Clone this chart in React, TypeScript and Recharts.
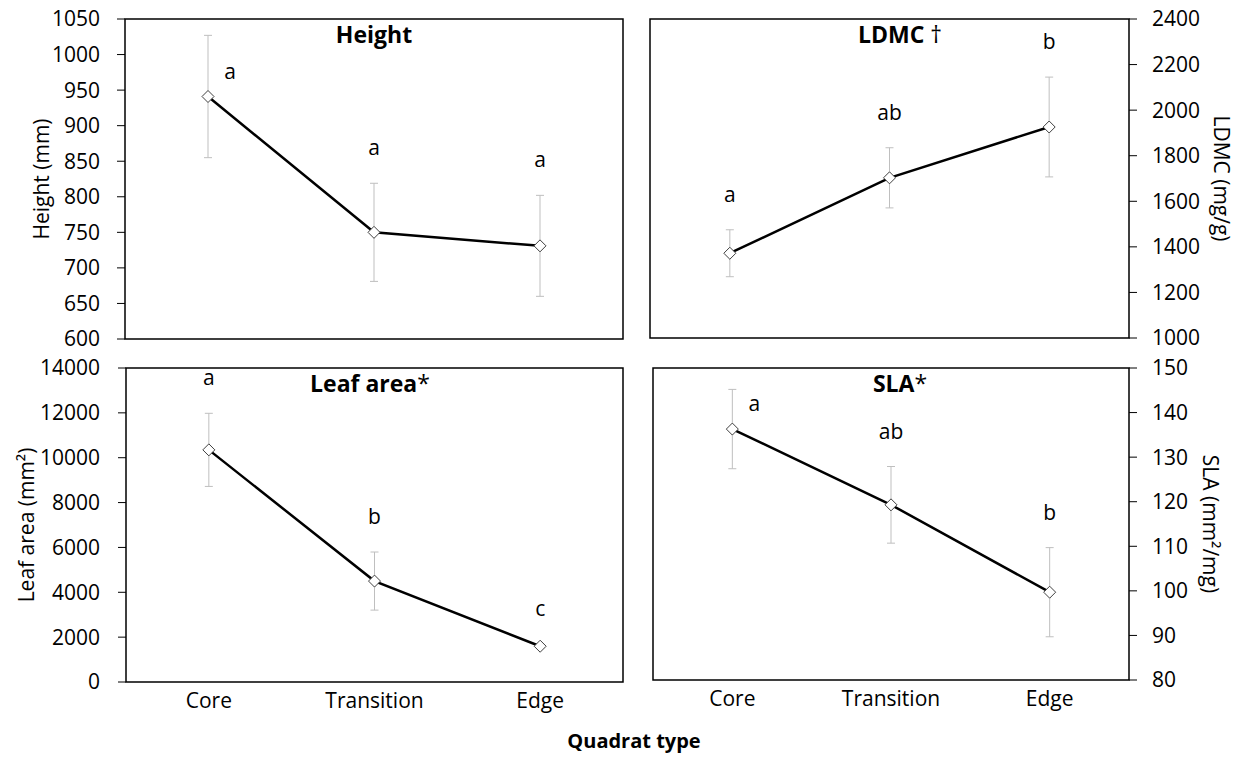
import { LineChart, Line, XAxis, YAxis, ErrorBar, ReferenceArea, LabelList, Label } from 'recharts'

const quadrats = ['Core', 'Transition', 'Edge']

const heightMean = [941, 750, 731]
const heightErr = [86, 69, 71]
const heightLetters = ['a', 'a', 'a']
const heightTicks = [600, 650, 700, 750, 800, 850, 900, 950, 1000, 1050]

const ldmcMean = [1372, 1703, 1926]
const ldmcErr = [103, 132, 219]
const ldmcLetters = ['a', 'ab', 'b']
const ldmcTicks = [1000, 1200, 1400, 1600, 1800, 2000, 2200, 2400]

const leafMean = [10350, 4500, 1595]
const leafErr = [1630, 1295, 80]
const leafLetters = ['a', 'b', 'c']
const leafTicks = [0, 2000, 4000, 6000, 8000, 10000, 12000, 14000]

const slaMean = [136.3, 119.3, 99.7]
const slaErr = [8.9, 8.6, 10]
const slaLetters = ['a', 'ab', 'b']
const slaTicks = [80, 90, 100, 110, 120, 130, 140, 150]

const W = 1243
const H = 761
const FONT = "'Open Sans', sans-serif"
const FS = 21

type Panel = {
  title: string
  titleNote: string
  titleX: number
  yLabel: string
  yLabelX: number
  mean: number[]
  err: number[]
  letters: string[]
  ticks: number[]
  beside: number[]
  side: 'left' | 'right'
  box: { x1: number; y1: number; x2: number; y2: number }
  showX: boolean
  tickMargin: number
}

const panels: Panel[] = [
  {
    title: 'Height', titleNote: '', titleX: 374, yLabel: 'Height (mm)', yLabelX: 41,
    mean: heightMean, err: heightErr, letters: heightLetters, ticks: heightTicks, beside: [0],
    side: 'left', box: { x1: 125, y1: 19, x2: 623, y2: 339 }, showX: false, tickMargin: 17,
  },
  {
    title: 'LDMC', titleNote: ' †', titleX: 900, yLabel: 'LDMC (mg/g)', yLabelX: 1222,
    mean: ldmcMean, err: ldmcErr, letters: ldmcLetters, ticks: ldmcTicks, beside: [],
    side: 'right', box: { x1: 650, y1: 19, x2: 1129, y2: 338 }, showX: false, tickMargin: 15,
  },
  {
    title: 'Leaf area', titleNote: '*', titleX: 370, yLabel: 'Leaf area (mm²)', yLabelX: 26,
    mean: leafMean, err: leafErr, letters: leafLetters, ticks: leafTicks, beside: [],
    side: 'left', box: { x1: 126, y1: 368, x2: 623, y2: 682 }, showX: true, tickMargin: 18,
  },
  {
    title: 'SLA', titleNote: '*', titleX: 900, yLabel: 'SLA (mm²/mg)', yLabelX: 1211,
    mean: slaMean, err: slaErr, letters: slaLetters, ticks: slaTicks, beside: [0],
    side: 'right', box: { x1: 653, y1: 368, x2: 1129, y2: 680 }, showX: true, tickMargin: 15,
  },
]

const Diamond = (props: any) => {
  const { cx, cy } = props
  if (cx == null || cy == null) return null
  const s = 6
  return (
    <polygon
      points={`${cx},${cy - s} ${cx + s},${cy} ${cx},${cy + s} ${cx - s},${cy}`}
      fill="#fff"
      stroke="#404040"
      strokeWidth={1}
    />
  )
}

const pos = (props: any) => {
  const vb = props.viewBox || {}
  return { x: props.x ?? vb.x, y: props.y ?? vb.y }
}

// letter sitting above the upper error cap
const aboveLetter = (props: any) => {
  if (!props.value) return null
  const { x, y } = pos(props)
  return (
    <text x={x} y={y - 28} textAnchor="middle" fontSize={FS} fill="#000">
      {props.value}
    </text>
  )
}

// letter placed up and to the right of the point
const besideLetter = (props: any) => {
  if (!props.value) return null
  const { x, y } = pos(props)
  return (
    <text x={x + 22} y={y - 18} textAnchor="middle" fontSize={FS} fill="#000">
      {props.value}
    </text>
  )
}

function PanelChart({ p }: { p: Panel }) {
  const data = quadrats.map((q, i) => ({
    idx: i,
    name: q,
    mean: p.mean[i],
    err: p.err[i],
    top: p.mean[i] + p.err[i],
    above: p.beside.includes(i) ? '' : p.letters[i],
    side: p.beside.includes(i) ? p.letters[i] : '',
  }))
  const { x1, y1, x2, y2 } = p.box
  const yMin = p.ticks[0]
  const yMax = p.ticks[p.ticks.length - 1]
  const margin = {
    top: y1,
    bottom: p.showX ? 0 : H - y2,
    left: p.side === 'left' ? 0 : x1,
    right: p.side === 'right' ? 0 : W - x2,
  }

  const yLabel = (props: any) => {
    const vb = props.viewBox
    const cy = vb.y + vb.height / 2
    const rot = p.side === 'left' ? -90 : 90
    return (
      <text
        x={p.yLabelX}
        y={cy}
        transform={`rotate(${rot}, ${p.yLabelX}, ${cy})`}
        textAnchor="middle"
        dominantBaseline="central"
        fontSize={FS}
        fill="#000"
      >
        {p.yLabel}
      </text>
    )
  }

  const titleLabel = (props: any) => {
    const vb = props.viewBox
    return (
      <text x={p.titleX} y={vb.y + 24} textAnchor="middle" fontSize={23} fill="#000">
        <tspan fontWeight="bold">{p.title}</tspan>
        <tspan>{p.titleNote}</tspan>
      </text>
    )
  }

  return (
    <div style={{ position: 'absolute', left: 0, top: 0 }}>
      <LineChart width={W} height={H} data={data} margin={margin}>
        <XAxis
          type="number"
          dataKey="idx"
          domain={[-0.5, 2.5]}
          ticks={[0, 1, 2]}
          interval={0}
          tickFormatter={(v: number) => quadrats[v]}
          hide={!p.showX}
          height={p.showX ? H - y2 : 0}
          axisLine={false}
          tickLine={false}
          tickSize={0}
          tickMargin={11}
          tick={{ fill: '#000', fontSize: FS }}
        />
        <YAxis
          orientation={p.side}
          type="number"
          domain={[yMin, yMax]}
          ticks={p.ticks}
          interval={0}
          width={p.side === 'left' ? x1 : W - x2}
          axisLine={false}
          tickLine={{ stroke: '#000', strokeWidth: 1 }}
          tickSize={8}
          tickMargin={p.tickMargin}
          tick={{ fill: '#000', fontSize: FS }}
        >
          <Label content={yLabel} />
        </YAxis>
        <ReferenceArea
          x1={-0.5}
          x2={2.5}
          y1={yMin}
          y2={yMax}
          fill="none"
          stroke="#000"
          strokeWidth={1.5}
          ifOverflow="visible"
          label={titleLabel}
        />
        <Line
          dataKey="top"
          stroke="none"
          dot={false}
          activeDot={false}
          legendType="none"
          isAnimationActive={false}
        >
          <LabelList dataKey="above" content={aboveLetter} />
        </Line>
        <Line
          dataKey="mean"
          stroke="#000"
          strokeWidth={2.5}
          dot={<Diamond />}
          activeDot={false}
          isAnimationActive={false}
        >
          <ErrorBar dataKey="err" width={4} stroke="#bfbfbf" strokeWidth={1} direction="y" />
          <LabelList dataKey="side" content={besideLetter} />
        </Line>
      </LineChart>
    </div>
  )
}

export default function App() {
  return (
    <div
      style={{
        position: 'absolute',
        left: 0,
        top: 0,
        width: W,
        height: H,
        background: '#fff',
        fontFamily: FONT,
        overflow: 'hidden',
      }}
    >
      {panels.map((p) => (
        <PanelChart key={p.title} p={p} />
      ))}
      <svg width={W} height={H} style={{ position: 'absolute', left: 0, top: 0 }}>
        <text x={634} y={748} textAnchor="middle" fontSize={20} fontWeight="bold" fill="#000">
          Quadrat type
        </text>
      </svg>
    </div>
  )
}
